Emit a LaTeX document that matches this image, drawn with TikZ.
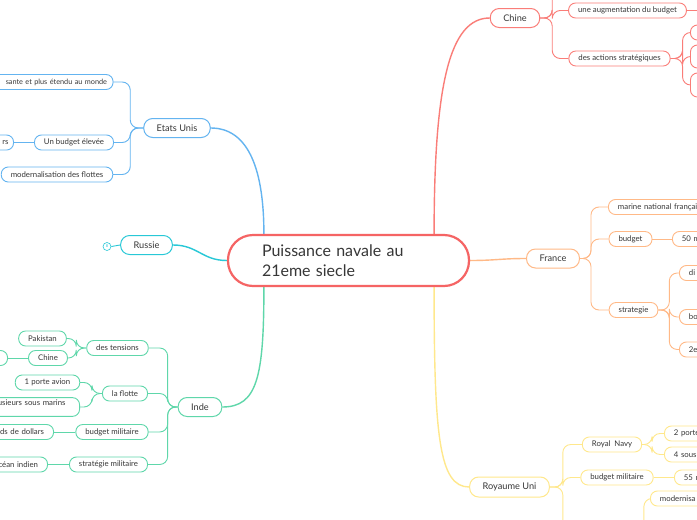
\documentclass[tikz,border=0pt]{standalone}
\usepackage{fontspec}
\setmainfont{Lato}
\usetikzlibrary{backgrounds}
\definecolor{rootred}{RGB}{245,100,100}
\definecolor{cred}{RGB}{250,125,120}
\definecolor{cblue}{RGB}{100,180,240}
\definecolor{ccyan}{RGB}{40,200,215}
\definecolor{cgreen}{RGB}{95,215,170}
\definecolor{corange}{RGB}{255,185,135}
\definecolor{cyellow}{RGB}{255,232,140}
\definecolor{txt}{RGB}{55,55,55}

\begin{document}
\begin{tikzpicture}[x=1pt, y=-1pt]
    \tikzstyle{root} = [rectangle, rounded corners=25pt, draw=rootred, line width=2.2pt, fill=white, minimum width=241pt, minimum height=51pt, text width=173pt, inner sep=0pt, align=left, font=\fontsize{16}{19.5}\selectfont, text=txt]
    \tikzstyle{topic} = [rectangle, rounded corners=9pt, line width=1pt, fill=white, minimum height=19pt, inner xsep=13pt, font=\fontsize{9.2}{11}\selectfont, text=txt]
    \tikzstyle{sub} = [rectangle, rounded corners=7pt, line width=0.9pt, fill=white, minimum height=15pt, inner xsep=9.5pt, inner ysep=2pt, font=\fontsize{7.8}{9}\selectfont, text=txt]
    \tikzstyle{trunk} = [line width=1.4pt]
    \tikzstyle{link} = [line width=0.9pt, rounded corners=8pt]

    \useasboundingbox (0,0) rectangle (697,520);
    \clip (0,0) rectangle (697,520);

    \node (ctr) [root] at (348.5,260.5) {Puissance navale au\\21eme siecle};

    % Chine
    \node (chine) [topic, draw=cred] at (515,18) {Chine};
    \node (ch0)  [sub, draw=cred, anchor=west, minimum width=110pt] at (568,-12) {};
    \node (chb)  [sub, draw=cred] at (627.5,10.5) {une augmentation du budget};
    \node (chbx) [sub, draw=cred, anchor=west, minimum width=40pt] at (700,10.5) {};
    \node (cha)  [sub, draw=cred] at (619.5,58.5) {des actions stratégiques};
    \node (ca1)  [sub, draw=cred, anchor=west, minimum width=40pt] at (690,32.5) {};
    \node (ca2)  [sub, draw=cred, anchor=west, minimum width=40pt, minimum height=23pt] at (690,56.5) {};
    \node (ca3)  [sub, draw=cred, anchor=west, minimum width=40pt, minimum height=24pt] at (690,85) {};

    % Etats Unis
    \node (eu)   [topic, draw=cblue] at (177,128) {Etats Unis};
    \node (eu1)  [sub, draw=cblue, anchor=east, text width=140pt, align=right, inner xsep=6pt, font=\fontsize{7.3}{9}\selectfont] at (113.5,82) {sante et plus étendu au monde};
    \node (eu2)  [sub, draw=cblue] at (74,142.5) {Un budget élevée};
    \node (eu2a) [sub, draw=cblue, anchor=east, text width=40pt, align=right, inner xsep=5pt] at (14,142.5) {rs};
    \node (eu3)  [sub, draw=cblue] at (57,174.5) {modernalisation des flottes};

    % Russie
    \node (rus)  [topic, draw=ccyan] at (146.5,245) {Russie};
    \node (rusm) [circle, draw=ccyan, line width=0.6pt, fill=white, minimum size=8pt, inner sep=0pt, font=\fontsize{4}{4}\selectfont, text=ccyan] at (107,246.5) {8};

    % Inde
    \node (inde)  [topic, draw=cgreen] at (200,407) {Inde};
    \node (in1)   [sub, draw=cgreen] at (117.5,348) {des tensions};
    \node (in1a)  [sub, draw=cgreen] at (42.5,338.5) {Pakistan};
    \node (in1b)  [sub, draw=cgreen] at (48,358) {Chine};
    \node (in1bx) [sub, draw=cgreen, anchor=east, minimum width=40pt] at (8,358) {};
    \node (in2)   [sub, draw=cgreen] at (125,393.5) {la flotte};
    \node (in2a)  [sub, draw=cgreen] at (47.5,382.5) {1 porte avion};
    \node (in2b)  [sub, draw=cgreen, anchor=east, text width=140pt, align=right, inner xsep=14pt] at (80,407) {usieurs sous marins\\\mbox{}};
    \node (in3)   [sub, draw=cgreen] at (112,432) {budget militaire};
    \node (in3a)  [sub, draw=cgreen, anchor=east, text width=100pt, align=right] at (54,432) {ds de dollars};
    \node (in4)   [sub, draw=cgreen] at (108.5,464.5) {stratégie militaire};
    \node (in4a)  [sub, draw=cgreen, anchor=east, text width=100pt, align=right] at (48,464.5) {céan indien};

    % France
    \node (fr)   [topic, draw=corange] at (553,258.5) {France};
    \node (fr1)  [sub, draw=corange, anchor=west, text width=120pt, align=left] at (608,207) {marine national françai};
    \node (fr2)  [sub, draw=corange] at (630.5,239) {budget};
    \node (fr2a) [sub, draw=corange, anchor=west, text width=60pt, align=left] at (672,239) {50 m};
    \node (fr3)  [sub, draw=corange] at (633.5,310) {strategie};
    \node (fr3a) [sub, draw=corange, anchor=west, text width=60pt, align=left] at (679,273) {di};
    \node (fr3b) [sub, draw=corange, anchor=west, text width=60pt, align=left] at (679,317) {bo};
    \node (fr3c) [sub, draw=corange, anchor=west, text width=60pt, align=left] at (679,349.5) {2e};

    % Royaume Uni
    \node (ru)   [topic, draw=cyellow, minimum height=20pt] at (509.5,487) {Royaume Uni};
    \node (ru1)  [sub, draw=cyellow] at (612,444.5) {Royal\ \ Navy};
    \node (ru1a) [sub, draw=cyellow, anchor=west, text width=60pt, align=left] at (664,433.5) {2 porte};
    \node (ru1b) [sub, draw=cyellow, anchor=west, text width=60pt, align=left] at (664,454.5) {4 sous};
    \node (ru2)  [sub, draw=cyellow] at (617,477.5) {budget militaire};
    \node (ru2a) [sub, draw=cyellow, anchor=west, text width=60pt, align=left] at (674,477.5) {55 m};
    \node (ru3)  [sub, draw=cyellow, anchor=west, minimum width=53pt] at (579,535) {};
    \node (ru3a) [sub, draw=cyellow, anchor=west, text width=60pt, align=left] at (650,498.5) {modernisa};

    \begin{scope}[on background layer]
        \fill[white] (0,0) rectangle (697,520);
        % main branches
        \draw[trunk, cred] ([xshift=-36pt]ctr.north east) .. controls +(0,-150) and +(-40,0) .. (chine.west);
        \draw[trunk, cblue] ([xshift=37pt]ctr.north west) .. controls +(0,-70) and +(35,0) .. (eu.east);
        \draw[trunk, ccyan] (ctr.west) .. controls +(-25,0) and +(25,0) .. (rus.east);
        \draw[trunk, cgreen] ([xshift=37pt]ctr.south west) .. controls +(0,90) and +(35,0) .. (inde.east);
        \draw[trunk, corange] (ctr.east) .. controls +(25,0) and +(-25,0) .. (fr.west);
        \draw[trunk, cyellow] ([xshift=-36pt]ctr.south east) .. controls +(0,150) and +(-30,0) .. (ru.west);
        % Chine
        \draw[link, cred] (chine.east) -- ++(12,0) |- (ch0.west);
        \draw[link, cred] (chine.east) -- ++(12,0) |- (chb.west);
        \draw[link, cred] (chine.east) -- ++(12,0) |- (cha.west);
        \draw[link, cred] (chb.east) -- (chbx.west);
        \draw[link, cred] (cha.east) -- ++(12,0) |- (ca1.west);
        \draw[link, cred] (cha.east) -- ++(12,0) |- (ca2.west);
        \draw[link, cred] (cha.east) -- ++(12,0) |- (ca3.west);
        % Etats Unis
        \draw[link, cblue] (eu.west) -- ++(-13,0) |- (eu1.east);
        \draw[link, cblue] (eu.west) -- ++(-13,0) |- (eu2.east);
        \draw[link, cblue] (eu.west) -- ++(-13,0) |- (eu3.east);
        \draw[link, cblue] (eu2.west) -- (eu2a.east);
        % Russie
        \draw[link, ccyan] (rus.west) -- (rusm.east);
        % Inde
        \draw[link, cgreen] (inde.west) -- ++(-10,0) |- (in1.east);
        \draw[link, cgreen] (inde.west) -- ++(-10,0) |- (in2.east);
        \draw[link, cgreen] (inde.west) -- ++(-10,0) |- (in3.east);
        \draw[link, cgreen] (inde.west) -- ++(-10,0) |- (in4.east);
        \draw[link, cgreen] (in1.west) -- ++(-10,0) |- (in1a.east);
        \draw[link, cgreen] (in1.west) -- ++(-10,0) |- (in1b.east);
        \draw[link, cgreen] (in1b.west) -- (in1bx.east);
        \draw[link, cgreen] (in2.west) -- ++(-10,0) |- (in2a.east);
        \draw[link, cgreen] (in2.west) -- ++(-10,0) |- (in2b.east);
        \draw[link, cgreen] (in3.west) -- (in3a.east);
        \draw[link, cgreen] (in4.west) -- (in4a.east);
        % France
        \draw[link, corange] (fr.east) -- ++(11,0) |- (fr1.west);
        \draw[link, corange] (fr.east) -- ++(11,0) |- (fr2.west);
        \draw[link, corange] (fr.east) -- ++(11,0) |- (fr3.west);
        \draw[link, corange] (fr2.east) -- (fr2a.west);
        \draw[link, corange] (fr3.east) -- ++(11,0) |- (fr3a.west);
        \draw[link, corange] (fr3.east) -- ++(11,0) |- (fr3b.west);
        \draw[link, corange] (fr3.east) -- ++(11,0) |- (fr3c.west);
        % Royaume Uni
        \draw[link, cyellow] (ru.east) -- ++(13,0) |- (ru1.west);
        \draw[link, cyellow] (ru.east) -- ++(13,0) |- (ru2.west);
        \draw[link, cyellow] (ru.east) -- ++(13,0) |- (ru3.west);
        \draw[link, cyellow] (ru1.east) -- ++(10,0) |- (ru1a.west);
        \draw[link, cyellow] (ru1.east) -- ++(10,0) |- (ru1b.west);
        \draw[link, cyellow] (ru2.east) -- (ru2a.west);
        \draw[link, cyellow] (ru3.east) -- ++(11,0) |- (ru3a.west);
    \end{scope}
\end{tikzpicture}
\end{document}
